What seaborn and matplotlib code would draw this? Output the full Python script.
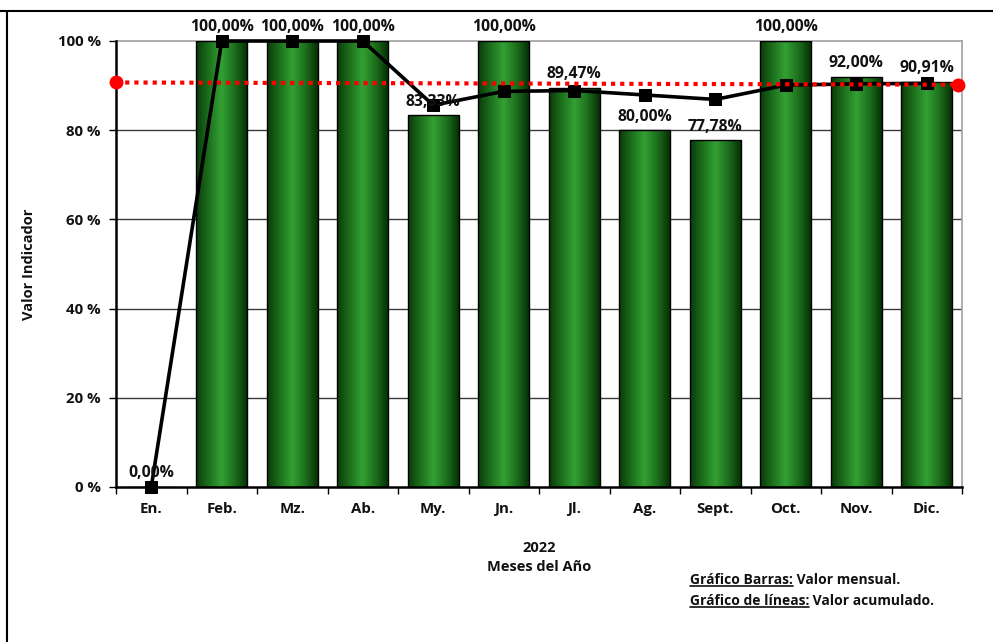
import numpy as np
import pandas as pd
import matplotlib
matplotlib.use("Agg")
import matplotlib.pyplot as plt
from matplotlib.lines import Line2D
from matplotlib.colors import LinearSegmentedColormap
import seaborn as sns

months = ["En.", "Feb.", "Mz.", "Ab.", "My.", "Jn.", "Jl.", "Ag.", "Sept.", "Oct.", "Nov.", "Dic."]
monthly = [0.00, 100.00, 100.00, 100.00, 83.33, 100.00, 89.47, 80.00, 77.78, 100.00, 92.00, 90.91]
cumulative = [0.0, 100.0, 100.0, 100.0, 85.6, 88.7, 88.9, 87.9, 86.9, 90.1, 90.4, 90.5]
target = [90.7, 90.2]
yticks = [0, 20, 40, 60, 80, 100]
ytick_labels = ["0 %", "20 %", "40 %", "60 %", "80 %", "100 %"]

sns.set_theme(style="white")
FONT = ["Open Sans", "DejaVu Sans"]
plt.rcParams["font.family"] = FONT
plt.rcParams["font.weight"] = "bold"
TXT = "#111111"

W, H = 993, 642
fig = plt.figure(figsize=(W / 100, H / 100), dpi=100)
ax = fig.add_axes([116 / W, 1 - 487 / H, (962 - 116) / W, (487 - 41) / H])

df = pd.DataFrame({"mes": months, "valor": monthly})
sns.barplot(data=df, x="mes", y="valor", ax=ax, color="#1f7a1f", width=0.72,
            edgecolor="black", linewidth=1.0, zorder=3)

# gradient fill for bars
cmap = LinearSegmentedColormap.from_list(
    "g", ["#0a3a0a", "#1d701d", "#33a033", "#1d701d", "#063006"])
grad = np.linspace(0, 1, 256).reshape(1, -1)
for p in ax.patches:
    x0, y0 = p.get_x(), p.get_y()
    w, h = p.get_width(), p.get_height()
    if h <= 0:
        continue
    im = ax.imshow(grad, cmap=cmap, aspect="auto", extent=[x0, x0 + w, y0, y0 + h],
                   zorder=2.9, interpolation="bilinear")
    im.set_clip_path(p)
    p.set_facecolor("none")

ax.set_xlim(-0.5, 11.5)
ax.set_ylim(0, 100)

# gridlines
for yv in yticks[1:-1]:
    ax.axhline(yv, color="#3a3a3a", lw=1.0, zorder=1)

# cumulative line
sns.lineplot(x=np.arange(len(months)), y=cumulative, ax=ax, color="black", lw=2.6,
             marker="s", markersize=9, markeredgecolor="black", zorder=5,
             clip_on=False)

# target line
ax.plot([-0.5, 11.45], target, color="red", lw=3, ls=(0, (1, 1.2)), zorder=6,
        clip_on=False)
ax.plot([-0.5, 11.45], target, color="red", lw=0, marker="o", markersize=9,
        zorder=7, clip_on=False)

# data labels
for i, v in enumerate(monthly):
    ax.annotate(f"{v:.2f}%".replace(".", ","), (i, v), xytext=(0, 4),
                textcoords="offset points", ha="center", va="bottom",
                fontsize=11.3, fontweight="bold", color=TXT, zorder=8,
                annotation_clip=False)

# spines
for s in ["top", "right"]:
    ax.spines[s].set_color("#a0a0a0")
    ax.spines[s].set_linewidth(1.2)
for s in ["left", "bottom"]:
    ax.spines[s].set_color("black")
    ax.spines[s].set_linewidth(1.8)
    ax.spines[s].set_zorder(6)

ax.set_yticks(yticks)
ax.set_yticklabels(ytick_labels, fontsize=10.8, fontweight="bold", color=TXT)
ax.tick_params(axis="y", which="major", direction="out", length=5, width=1,
               color="black", left=True, pad=6)

ax.set_xticks(np.arange(len(months)))
ax.set_xticklabels(months, fontsize=10.8, fontweight="bold", color=TXT)
ax.set_xticks(np.arange(-0.5, 12, 1), minor=True)
ax.tick_params(axis="x", which="major", length=0, pad=11)
ax.tick_params(axis="x", which="minor", direction="out", length=5, width=1,
               color="black", bottom=True)

ax.set_xlabel("2022\nMeses del Año", fontsize=10.5, fontweight="bold", labelpad=18,
              linespacing=1.45, color=TXT)
ax.set_ylabel("Valor Indicador", fontsize=10.5, fontweight="bold", color=TXT)
ax.yaxis.set_label_coords(-80 / 846, 0.5)

# frame lines
fig.add_artist(Line2D([0, 1], [1 - 11 / H, 1 - 11 / H], transform=fig.transFigure,
                      color="black", lw=1.5))
fig.add_artist(Line2D([7 / W, 7 / W], [0, 1 - 11 / H], transform=fig.transFigure,
                      color="black", lw=1.5))

# legend notes with underline
fig.canvas.draw()
renderer = fig.canvas.get_renderer()
notes = [("Gráfico Barras:", " Valor mensual."),
         ("Gráfico de líneas:", " Valor acumulado.")]
ys = [580, 601]
for (u, rest), yp in zip(notes, ys):
    t1 = fig.text(690 / W, 1 - yp / H, u, fontsize=10, fontweight="bold",
                  ha="left", va="center", color=TXT)
    bb = t1.get_window_extent(renderer)
    x_end = bb.x1
    fig.add_artist(Line2D([bb.x0 / W, bb.x1 / W], [(bb.y0 + 1) / H, (bb.y0 + 1) / H],
                          transform=fig.transFigure, color=TXT, lw=1.2))
    fig.text(x_end / W, 1 - yp / H, rest, fontsize=10, fontweight="bold",
             ha="left", va="center", color=TXT)

fig.savefig("out.png", dpi=100, facecolor="white")
